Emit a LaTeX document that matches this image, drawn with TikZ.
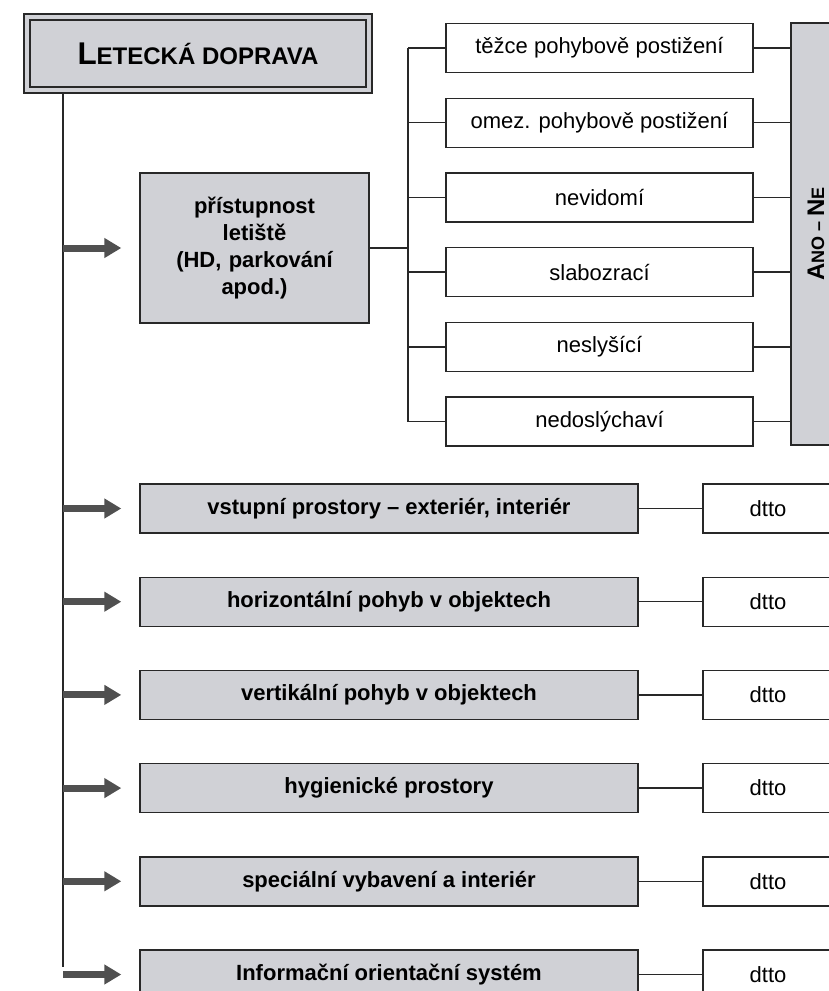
\documentclass[tikz,border=0pt]{standalone}
\usepackage{fontspec}
\setmainfont{Liberation Sans}
\usepackage{graphicx}
\usetikzlibrary{arrows.meta, positioning, calc}
\definecolor{boxgray}{RGB}{208, 209, 214}
\definecolor{linegray}{RGB}{40, 40, 40}
\definecolor{arrowgray}{RGB}{80, 80, 80}
% fake small caps
\newcommand{\capbig}[2]{{\fontsize{#1}{#1}\selectfont #2}}

\begin{document}
\begin{tikzpicture}[
  x=0.5pt, y=-0.5pt,
  every node/.style={font=\fontsize{11}{13.5}\selectfont, inner sep=0pt},
  title/.style={draw=linegray, line width=0.9pt, double=boxgray, double distance=2pt, fill=boxgray, minimum width=171pt, minimum height=36.5pt, font=\bfseries},
  topic/.style={draw=linegray, line width=0.7pt, fill=boxgray, font=\bfseries\fontsize{11}{13.5}\selectfont, align=center, minimum width=249pt, minimum height=24.5pt},
  group/.style={topic, minimum width=114.5pt, minimum height=75pt, text width=110pt},
  sub/.style={draw=linegray, line width=0.7pt, fill=white, minimum width=153.5pt, minimum height=24.5pt},
  same/.style={sub, minimum width=65pt},
  verdict/.style={draw=linegray, line width=0.7pt, fill=boxgray, minimum width=25pt, minimum height=211pt, font=\bfseries},
  link/.style={draw=linegray, line width=0.7pt},
  feed/.style={-{Triangle[length=8.5pt, width=9.5pt]}, line width=3.5pt, color=arrowgray, shorten >=9pt}
]
  \useasboundingbox (0, 0) rectangle (829, 991);
  \clip (0, 0) rectangle (829, 991);

  \node[title] (air) at (198, 53.5) {\capbig{15.7}{L}\capbig{12}{ETECKÁ DOPRAVA}};

  % Přístupnost a skupiny osob
  \node[group] (access) at (254.5, 248) {přístupnost\\letiště\\(HD, parkování\\apod.)};
  \node[sub] (heavy) at (599.5, 48) {těžce pohybově postižení};
  \node[sub] (limited) at (599.5, 122.7) {omez. pohybově postižení};
  \node[sub] (blind) at (599.5, 197.4) {nevidomí};
  \node[sub] (lowvis) at (599.5, 272.1) {slabozrací};
  \node[sub] (deaf) at (599.5, 346.8) {neslyšící};
  \node[sub] (hardhear) at (599.5, 421.5) {nedoslýchaví};
  \node[verdict] (yesno) at (816, 234) {\rotatebox{90}{\capbig{12}{A}\capbig{9}{NO -- }\capbig{12}{N}\capbig{9}{E}}};

  % Další oblasti
  \node[topic] (entry) at (389, 508.5) {vstupní prostory -- exteriér, interiér};
  \node[topic] (horiz) at (389, 601.7) {horizontální pohyb v objektech};
  \node[topic] (vert) at (389, 694.9) {vertikální pohyb v objektech};
  \node[topic] (hygiene) at (389, 788.1) {hygienické prostory};
  \node[topic] (special) at (389, 881.3) {speciální vybavení a interiér};
  \node[topic] (info) at (389, 974.5) {Informační orientační systém};

  \node[same] (entrysame) at (768, 508.5) {dtto};
  \node[same] (horizsame) at (768, 601.7) {dtto};
  \node[same] (vertsame) at (768, 694.9) {dtto};
  \node[same] (hygienesame) at (768, 788.1) {dtto};
  \node[same] (specialsame) at (768, 881.3) {dtto};
  \node[same] (infosame) at (768, 974.5) {dtto};

  % Kmen a šipky
  \coordinate (trunktop) at (63, 94);
  \coordinate (trunkend) at (63, 967);
  \draw[link] (trunktop) -- (trunkend);
  \draw[feed] (trunktop |- access.west) -- (access.west);
  \draw[feed] (trunktop |- entry.west) -- (entry.west);
  \draw[feed] (trunktop |- horiz.west) -- (horiz.west);
  \draw[feed] (trunktop |- vert.west) -- (vert.west);
  \draw[feed] (trunktop |- hygiene.west) -- (hygiene.west);
  \draw[feed] (trunktop |- special.west) -- (special.west);
  \draw[feed] (trunktop |- info.west) -- (info.west);

  % Rozvětvení
  \coordinate (fork) at (408, 248);
  \draw[link] (access.east) -- (fork);
  \draw[link] (fork |- heavy.west) -- (fork |- hardhear.west);
  \draw[link] (fork |- heavy.west) -- (heavy.west);
  \draw[link] (fork |- limited.west) -- (limited.west);
  \draw[link] (fork |- blind.west) -- (blind.west);
  \draw[link] (fork |- lowvis.west) -- (lowvis.west);
  \draw[link] (fork |- deaf.west) -- (deaf.west);
  \draw[link] (fork |- hardhear.west) -- (hardhear.west);

  \draw[link] (heavy.east) -- (heavy.east -| yesno.west);
  \draw[link] (limited.east) -- (limited.east -| yesno.west);
  \draw[link] (blind.east) -- (blind.east -| yesno.west);
  \draw[link] (lowvis.east) -- (lowvis.east -| yesno.west);
  \draw[link] (deaf.east) -- (deaf.east -| yesno.west);
  \draw[link] (hardhear.east) -- (hardhear.east -| yesno.west);

  \draw[link] (entry) -- (entrysame);
  \draw[link] (horiz) -- (horizsame);
  \draw[link] (vert) -- (vertsame);
  \draw[link] (hygiene) -- (hygienesame);
  \draw[link] (special) -- (specialsame);
  \draw[link] (info) -- (infosame);

\end{tikzpicture}
\end{document}
